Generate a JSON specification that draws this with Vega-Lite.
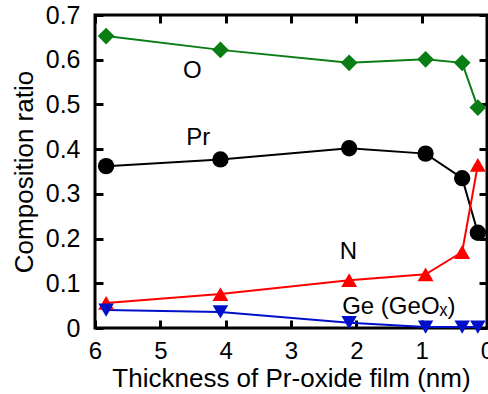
{
  "$schema": "https://vega.github.io/schema/vega-lite/v6.json",
  "width": 392,
  "height": 313,
  "autosize": "none",
  "padding": {"left": 95, "top": 15, "right": 1, "bottom": 66},
  "background": "white",
  "config": {
    "view": {"stroke": "black", "strokeWidth": 3},
    "font": "Liberation Sans",
    "axis": {"domain": false, "grid": false, "tickColor": "black", "tickWidth": 3, "labelColor": "black", "titleColor": "black", "labelFont": "Liberation Sans", "titleFont": "Liberation Sans", "labelFontSize": 25, "titleFontSize": 26, "titleFontWeight": "normal"}
  },
  "datasets": {
    "pts": [
      {"series": "O", "t": 5.83, "v": 0.653},
      {"series": "O", "t": 4.08, "v": 0.622},
      {"series": "O", "t": 2.11, "v": 0.593},
      {"series": "O", "t": 0.94, "v": 0.601},
      {"series": "O", "t": 0.38, "v": 0.593},
      {"series": "O", "t": 0.14, "v": 0.493},
      {"series": "Pr", "t": 5.83, "v": 0.362},
      {"series": "Pr", "t": 4.08, "v": 0.377},
      {"series": "Pr", "t": 2.11, "v": 0.402},
      {"series": "Pr", "t": 0.94, "v": 0.390},
      {"series": "Pr", "t": 0.38, "v": 0.335},
      {"series": "Pr", "t": 0.14, "v": 0.213},
      {"series": "N", "t": 5.83, "v": 0.056},
      {"series": "N", "t": 4.08, "v": 0.076},
      {"series": "N", "t": 2.11, "v": 0.107},
      {"series": "N", "t": 0.94, "v": 0.120},
      {"series": "N", "t": 0.38, "v": 0.170},
      {"series": "N", "t": 0.14, "v": 0.365},
      {"series": "Ge", "t": 5.83, "v": 0.040},
      {"series": "Ge", "t": 4.08, "v": 0.036},
      {"series": "Ge", "t": 2.11, "v": 0.012},
      {"series": "Ge", "t": 0.94, "v": 0.002},
      {"series": "Ge", "t": 0.38, "v": 0.002},
      {"series": "Ge", "t": 0.14, "v": 0.002}
    ],
    "labels": [
      {"label": "O", "t": 4.51, "v": 0.574},
      {"label": "Pr", "t": 4.42, "v": 0.424},
      {"label": "N", "t": 2.12, "v": 0.170},
      {"label": "Ge (GeOₓ)", "t": 1.35, "v": 0.047}
    ]
  },
  "resolve": {"axis": {"x": "independent", "y": "independent"}},
  "layer": [
    {
      "data": {"name": "pts"},
      "mark": {"type": "line", "strokeWidth": 2},
      "encoding": {
        "x": {"field": "t", "type": "quantitative", "scale": {"domain": [0, 6], "reverse": true, "nice": false}, "axis": {"orient": "bottom", "title": "Thickness of Pr-oxide film (nm)", "values": [0,1,2,3,4,5,6], "tickSize": -8, "labelPadding": 19, "labelFontSize": 24, "titlePadding": 2, "labelFlush": false}},
        "y": {"field": "v", "type": "quantitative", "scale": {"domain": [0, 0.7], "nice": false, "zero": false}, "axis": {"orient": "left", "title": "Composition ratio", "values": [0,0.1,0.2,0.3,0.4,0.5,0.6,0.7], "tickSize": -8, "labelPadding": 23, "titlePadding": 8, "labelExpr": "datum.value == 0 ? '0' : format(datum.value, '.1f')", "labelFlush": false}},
        "color": {"field": "series", "type": "nominal", "scale": {"domain": ["O", "Pr", "N", "Ge"], "range": ["#0a7d14", "#000000", "#ff0000", "#0010c8"]}, "legend": null},
        "detail": {"field": "series"}
      }
    },
    {
      "data": {"name": "pts"},
      "mark": {"type": "point", "filled": true, "opacity": 1},
      "encoding": {
        "x": {"field": "t", "type": "quantitative", "axis": {"orient": "top", "title": null, "labels": false, "values": [0,1,2,3,4,5,6], "tickSize": -8}},
        "y": {"field": "v", "type": "quantitative", "axis": {"orient": "right", "title": null, "labels": false, "values": [0,0.1,0.2,0.3,0.4,0.5,0.6,0.7], "tickSize": -8}},
        "color": {"field": "series", "type": "nominal", "legend": null},
        "shape": {"field": "series", "type": "nominal", "scale": {"domain": ["O", "Pr", "N", "Ge"], "range": ["diamond", "circle", "triangle-up", "triangle-down"]}, "legend": null},
        "size": {"field": "series", "type": "nominal", "scale": {"domain": ["O", "Pr", "N", "Ge"], "range": [280, 240, 290, 290]}, "legend": null}
      }
    },
    {
      "data": {"name": "labels"},
      "mark": {"type": "text", "fontSize": 24, "font": "Liberation Sans", "color": "black"},
      "encoding": {
        "x": {"field": "t", "type": "quantitative", "axis": null},
        "y": {"field": "v", "type": "quantitative", "axis": null},
        "text": {"field": "label"}
      }
    }
  ]
}
